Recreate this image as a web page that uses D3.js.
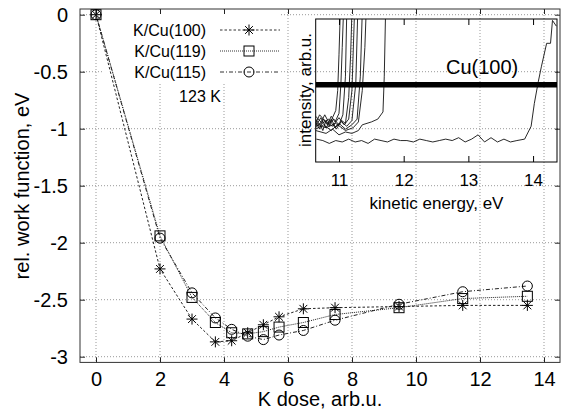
<!DOCTYPE html>
<html>
<head>
<meta charset="utf-8">
<script src="https://cdn.jsdelivr.net/npm/d3@7"></script>
<style>
  body { margin: 0; background: #fff; }
  text { font-family: "Liberation Sans", Arial, sans-serif; fill: #000; }
</style>
</head>
<body>
<script>
// données
const dose = [0, 2, 3, 3.73, 4.24, 4.74, 5.23, 5.72, 6.48, 7.47, 9.47, 11.46, 13.48];
const wf100 = [0, -2.23, -2.67, -2.87, -2.86, -2.79, -2.72, -2.65, -2.58, -2.57, -2.56, -2.55, -2.55];
const wf119 = [0, -1.94, -2.48, -2.70, -2.79, -2.80, -2.78, -2.74, -2.70, -2.63, -2.57, -2.49, -2.47];
const wf115 = [0, -1.96, -2.44, -2.66, -2.76, -2.82, -2.85, -2.81, -2.77, -2.68, -2.54, -2.43, -2.38];
const seriesNames = ["K/Cu(100)", "K/Cu(119)", "K/Cu(115)"];

const xTicks = [0, 2, 4, 6, 8, 10, 12, 14];
const yTicks = [0, -0.5, -1, -1.5, -2, -2.5, -3];

// spectres de l'encart (énergie cinétique, intensité)
const spec1 = [[10.64,0.24],[10.7,0.27],[10.75,0.22],[10.8,0.29],[10.85,0.25],[10.9,0.31],[10.95,0.36],[10.98,0.5],[11.0,0.75],[11.02,1.05]];
const spec2 = [[10.64,0.28],[10.7,0.23],[10.76,0.3],[10.82,0.26],[10.88,0.32],[10.94,0.28],[11.0,0.34],[11.03,0.55],[11.05,0.8],[11.07,1.05]];
const spec3 = [[10.64,0.3],[10.7,0.26],[10.78,0.33],[10.85,0.27],[10.92,0.3],[11.0,0.26],[11.06,0.33],[11.1,0.6],[11.12,1.05]];
const spec4 = [[10.64,0.25],[10.72,0.31],[10.8,0.24],[10.88,0.3],[10.96,0.23],[11.04,0.29],[11.1,0.27],[11.15,0.45],[11.18,0.75],[11.2,1.05]];
const spec5 = [[10.64,0.27],[10.7,0.33],[10.8,0.28],[10.9,0.25],[11.0,0.31],[11.08,0.26],[11.15,0.3],[11.2,0.5],[11.24,1.05]];
const spec6 = [[10.64,0.32],[10.74,0.27],[10.84,0.3],[10.94,0.24],[11.04,0.28],[11.12,0.25],[11.2,0.29],[11.26,0.55],[11.29,1.05]];
const spec7 = [[10.64,0.23],[10.76,0.26],[10.88,0.22],[11.0,0.27],[11.1,0.23],[11.2,0.26],[11.28,0.3],[11.33,0.6],[11.36,1.05]];
const spec8 = [[10.64,0.26],[10.8,0.24],[10.95,0.27],[11.1,0.22],[11.22,0.24],[11.3,0.28],[11.36,0.5],[11.4,0.8],[11.42,1.05]];
const spec9 = [[10.64,0.22],[10.8,0.2],[10.9,0.23],[11.0,0.19],[11.1,0.21],[11.2,0.2],[11.3,0.22],[11.36,0.26],[11.5,0.28],[11.6,0.3],[11.68,0.35],[11.7,0.6],[11.72,1.05]];
const spec10 = [[10.65,0.16],[10.75,0.15],[10.85,0.13],[10.95,0.15],[11.05,0.14],[11.15,0.16],[11.25,0.14],[11.35,0.15],[11.45,0.13],[11.55,0.16],
  [11.65,0.15],[11.75,0.14],[11.85,0.16],[11.95,0.15],[12.05,0.15],[12.15,0.14],[12.25,0.16],[12.35,0.15],[12.45,0.14],[12.55,0.15],
  [12.65,0.16],[12.75,0.15],[12.85,0.17],[12.95,0.14],[13.05,0.16],[13.15,0.19],[13.25,0.14],[13.35,0.17],[13.45,0.14],[13.55,0.16],
  [13.65,0.14],[13.75,0.15],[13.87,0.16],[13.97,0.25],[14.02,0.41],[14.08,0.56],[14.13,0.67],[14.18,0.77],[14.21,0.83],[14.27,0.83],
  [14.30,0.99],[14.36,0.95]];
const spectra = [spec1, spec2, spec3, spec4, spec5, spec6, spec7, spec8, spec9, spec10];
const insetTicks = [11, 12, 13, 14];
const cuLevel = 0.54;

const svg = d3.select("body").append("svg")
  .attr("width", 564)
  .attr("height", 410);

const plot = { left: 80, right: 560, top: 9, bottom: 362.4 };

const x = d3.scaleLinear().domain([-0.5, 14.5]).range([plot.left, plot.right]);
const y = d3.scaleLinear().domain([-3.05, 0.05]).range([plot.bottom, plot.top]);

// grille pointillée
const grid = svg.append("g").attr("stroke", "#999").attr("stroke-width", 1).attr("stroke-dasharray", "1,2");
xTicks.forEach(t => {
  grid.append("line").attr("x1", x(t)).attr("x2", x(t)).attr("y1", plot.top).attr("y2", plot.bottom);
});
yTicks.forEach(t => {
  grid.append("line").attr("x1", plot.left).attr("x2", plot.right).attr("y1", y(t)).attr("y2", y(t));
});

// fond de la légende
svg.append("rect").attr("x", 103).attr("y", plot.top + 1).attr("width", 178).attr("height", 73).attr("fill", "#fff");

// axes (ticks vers l'intérieur)
const tickLen = 5;
svg.append("g").attr("transform", `translate(0,${plot.bottom})`)
  .call(d3.axisBottom(x).tickValues(xTicks).tickSize(-tickLen).tickPadding(9).tickFormat(d3.format("d")))
  .call(g => g.select(".domain").remove())
  .call(g => g.selectAll("text").attr("font-size", 20).attr("dy", "0.71em"));
svg.append("g").attr("transform", `translate(0,${plot.top})`)
  .call(d3.axisTop(x).tickValues(xTicks).tickSize(-tickLen).tickFormat(""))
  .call(g => g.select(".domain").remove());
svg.append("g").attr("transform", `translate(${plot.left},0)`)
  .call(d3.axisLeft(y).tickValues(yTicks).tickSize(-tickLen).tickPadding(12).tickFormat(d => d === 0 ? "0" : String(d)))
  .call(g => g.select(".domain").remove())
  .call(g => g.selectAll("text").attr("font-size", 20));
svg.append("g").attr("transform", `translate(${plot.right},0)`)
  .call(d3.axisRight(y).tickValues(yTicks).tickSize(-tickLen).tickFormat(""))
  .call(g => g.select(".domain").remove());

svg.selectAll(".tick line").attr("stroke", "#222");

svg.append("rect")
  .attr("x", plot.left).attr("y", plot.top)
  .attr("width", plot.right - plot.left).attr("height", plot.bottom - plot.top)
  .attr("fill", "none").attr("stroke", "#333").attr("stroke-width", 1);

svg.append("text").attr("x", 320).attr("y", 406).attr("text-anchor", "middle").attr("font-size", 20)
  .text("K dose, arb.u.");
svg.append("text").attr("transform", "translate(29,186) rotate(-90)").attr("text-anchor", "middle").attr("font-size", 20)
  .text("rel. work function, eV");

// symboles
function star(g, cx, cy) {
  const r = 5.5, d = 3.9;
  g.append("path")
    .attr("d", `M${cx - r},${cy}H${cx + r}M${cx},${cy - r}V${cy + r}M${cx - d},${cy - d}L${cx + d},${cy + d}M${cx - d},${cy + d}L${cx + d},${cy - d}`)
    .attr("stroke", "#000").attr("stroke-width", 1).attr("fill", "none");
}
function square(g, cx, cy) {
  g.append("rect").attr("x", cx - 5).attr("y", cy - 5).attr("width", 10).attr("height", 10)
    .attr("stroke", "#000").attr("stroke-width", 1).attr("fill", "none");
}
function circle(g, cx, cy) {
  g.append("circle").attr("cx", cx).attr("cy", cy).attr("r", 5)
    .attr("stroke", "#000").attr("stroke-width", 1).attr("fill", "none");
}

const series = [
  { values: wf100, dash: "2.5,2", mark: star },
  { values: wf119, dash: "1,1", mark: square },
  { values: wf115, dash: "4,2,1,2", mark: circle }
];

const line = d3.line().x(d => x(d[0])).y(d => y(d[1]));

series.forEach((s, i) => {
  const pts = dose.map((d, j) => [d, s.values[j]]);
  svg.append("path").attr("d", line(pts)).attr("fill", "none")
    .attr("stroke", "#222").attr("stroke-width", 1).attr("stroke-dasharray", s.dash);
  const g = svg.append("g");
  pts.forEach(p => s.mark(g, x(p[0]), y(p[1])));

  // légende
  const ly = 30 + i * 21;
  svg.append("text").attr("x", 206).attr("y", ly + 5.5).attr("text-anchor", "end").attr("font-size", 16)
    .text(seriesNames[i]);
  svg.append("line").attr("x1", 220).attr("x2", 280).attr("y1", ly).attr("y2", ly)
    .attr("stroke", "#333").attr("stroke-width", 1).attr("stroke-dasharray", s.dash);
  s.mark(svg.append("g"), 249, ly);
});

svg.append("text").attr("x", 200).attr("y", 101.5).attr("text-anchor", "middle").attr("font-size", 16)
  .text("123 K");

// encart
const inset = { left: 315.7, right: 557, top: 19, bottom: 162 };
const xi = d3.scaleLinear().domain([10.64, 14.37]).range([inset.left, inset.right]);
const yi = d3.scaleLinear().domain([0, 1]).range([inset.bottom, inset.top]);

svg.append("clipPath").attr("id", "clipInset").append("rect")
  .attr("x", inset.left).attr("y", inset.top)
  .attr("width", inset.right - inset.left).attr("height", inset.bottom - inset.top);

const lineI = d3.line().x(d => xi(d[0])).y(d => yi(d[1]));
const gi = svg.append("g").attr("clip-path", "url(#clipInset)");
spectra.forEach(s => {
  gi.append("path").attr("d", lineI(s)).attr("fill", "none").attr("stroke", "#111").attr("stroke-width", 0.9);
});
gi.append("line").attr("x1", xi(10.64)).attr("x2", xi(14.37)).attr("y1", yi(cuLevel)).attr("y2", yi(cuLevel))
  .attr("stroke", "#000").attr("stroke-width", 5.5);

svg.append("g").attr("transform", `translate(0,${inset.bottom})`)
  .call(d3.axisBottom(xi).tickValues(insetTicks).tickSize(-6).tickPadding(12).tickFormat(d3.format("d")))
  .call(g => g.select(".domain").remove())
  .call(g => g.selectAll("text").attr("font-size", 17).attr("dy", "0.71em"))
  .call(g => g.selectAll(".tick line").attr("stroke", "#000"));
svg.append("g").attr("transform", `translate(0,${inset.top})`)
  .call(d3.axisTop(xi).tickValues(insetTicks).tickSize(-6).tickFormat(""))
  .call(g => g.select(".domain").remove())
  .call(g => g.selectAll(".tick line").attr("stroke", "#000"));

svg.append("rect")
  .attr("x", inset.left).attr("y", inset.top)
  .attr("width", inset.right - inset.left).attr("height", inset.bottom - inset.top)
  .attr("fill", "none").attr("stroke", "#000").attr("stroke-width", 1);

svg.append("text").attr("x", 446).attr("y", 74).attr("font-size", 20).text("Cu(100)");
svg.append("text").attr("x", 436.5).attr("y", 209).attr("text-anchor", "middle").attr("font-size", 17)
  .text("kinetic energy, eV");
svg.append("text").attr("transform", "translate(311,90) rotate(-90)").attr("text-anchor", "middle").attr("font-size", 17)
  .text("intensity, arb.u.");
</script>
</body>
</html>
